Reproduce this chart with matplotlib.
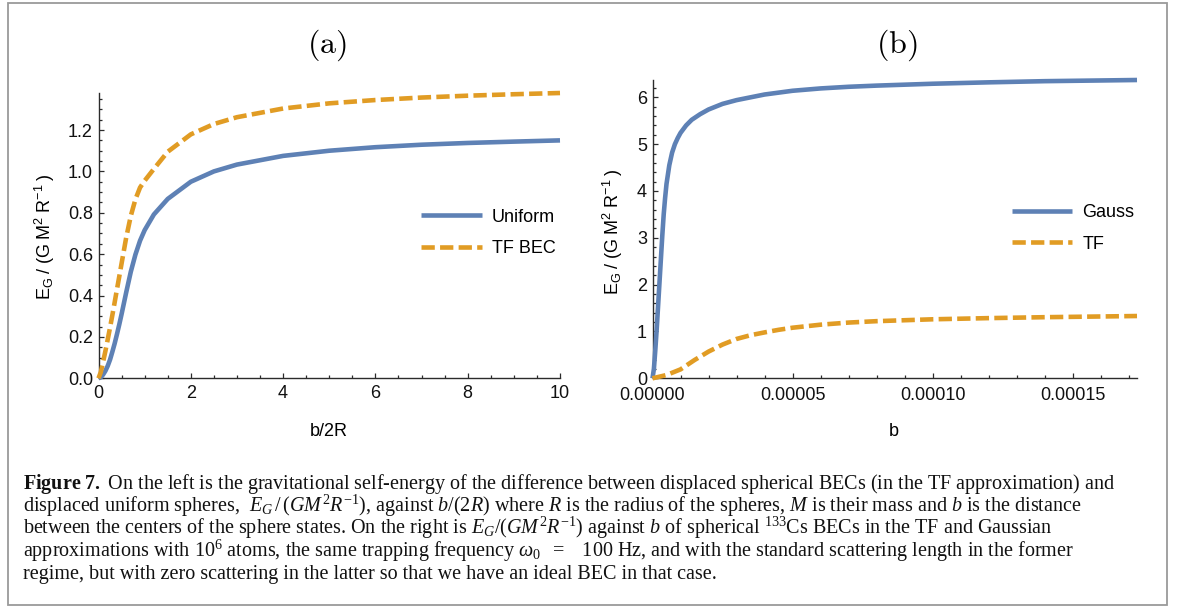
import matplotlib
matplotlib.use("Agg")
import matplotlib.pyplot as plt
from matplotlib.patches import Rectangle
from matplotlib.ticker import FixedLocator, MultipleLocator

# ---------------- data ----------------
# Panel (a): separation in units of b/2R
sep_a = [0, 0.05, 0.1, 0.15, 0.2, 0.25, 0.3, 0.35, 0.4, 0.45, 0.5, 0.6, 0.7,
         0.8, 0.9, 1.0, 1.2, 1.5, 2.0, 2.5, 3.0, 4.0, 5.0, 6.0, 7.0, 8.0, 9.0, 10.0]
uniform_a = [0, 0.005, 0.018, 0.036, 0.06, 0.09, 0.128, 0.168, 0.213, 0.26, 0.31,
             0.415, 0.515, 0.598, 0.665, 0.716, 0.792, 0.867, 0.95, 1.0, 1.033,
             1.075, 1.1, 1.117, 1.129, 1.1375, 1.144, 1.15]
tfbec_a = [0, 0.03, 0.08, 0.132, 0.188, 0.245, 0.305, 0.367, 0.43, 0.492, 0.555,
           0.68, 0.785, 0.865, 0.922, 0.955, 1.012, 1.095, 1.179, 1.229, 1.262,
           1.304, 1.329, 1.345, 1.357, 1.366, 1.373, 1.379]

# Panel (b): separation b in metres
sep_gauss = [0, 0.05e-5, 0.1e-5, 0.15e-5, 0.2e-5, 0.25e-5, 0.3e-5, 0.35e-5, 0.4e-5,
             0.45e-5, 0.5e-5, 0.6e-5, 0.7e-5, 0.8e-5, 0.9e-5, 1.0e-5, 1.2e-5,
             1.4e-5, 1.7e-5, 2.0e-5, 2.5e-5, 3.0e-5, 3.5e-5, 4.0e-5, 5.0e-5,
             6.0e-5, 7.0e-5, 8.0e-5, 10e-5, 12e-5, 14e-5, 16e-5, 17.3e-5]
gauss_b = [0, 0.2, 0.6, 1.05, 1.55, 2.05, 2.55, 3.05, 3.5, 3.85, 4.15, 4.55, 4.82,
           5.0, 5.13, 5.24, 5.4, 5.52, 5.64, 5.74, 5.86, 5.94, 6.0, 6.06, 6.14,
           6.19, 6.225, 6.25, 6.29, 6.32, 6.345, 6.36, 6.37]
sep_tf = [0, 0.5e-5, 1.0e-5, 1.5e-5, 2.0e-5, 2.5e-5, 3.0e-5, 3.5e-5, 4.0e-5,
          4.5e-5, 5.0e-5, 6.0e-5, 7.0e-5, 8.0e-5, 9.0e-5, 10e-5, 12e-5, 14e-5,
          16e-5, 17.3e-5]
tf_b = [0, 0.07, 0.19, 0.39, 0.57, 0.72, 0.84, 0.92, 0.98, 1.035, 1.08, 1.145,
        1.19, 1.22, 1.24, 1.26, 1.285, 1.305, 1.32, 1.33]

xticks_a = [0, 2, 4, 6, 8, 10]
yticks_a = [0.0, 0.2, 0.4, 0.6, 0.8, 1.0, 1.2]
ylabels_a = ["0.0", "0.2", "0.4", "0.6", "0.8", "1.0", "1.2"]
xticks_b = [0, 0.00005, 0.00010, 0.00015]
xlabels_b = ["0.00000", "0.00005", "0.00010", "0.00015"]
yticks_b = [0, 1, 2, 3, 4, 5, 6]
ylabels_b = ["0", "1", "2", "3", "4", "5", "6"]

# ---------------- style ----------------
BLUE = "#5E81B5"
ORANGE = "#E19C24"
AXC = "#2b2b2b"
W, H = 1182, 608
FS = 13

plt.rcParams["font.family"] = ["Liberation Sans", "DejaVu Sans"]
plt.rcParams["mathtext.fontset"] = "custom"
plt.rcParams["mathtext.rm"] = "Liberation Serif"
plt.rcParams["mathtext.it"] = "Liberation Serif:italic"
plt.rcParams["mathtext.bf"] = "Liberation Serif:bold"

fig = plt.figure(figsize=(W / 100, H / 100), dpi=100)


def px_axes(x0, x1, y_top, y_bot):
    return fig.add_axes([x0 / W, 1 - y_bot / H, (x1 - x0) / W, (y_bot - y_top) / H])


def style_axes(ax):
    for s in ("top", "right"):
        ax.spines[s].set_visible(False)
    for s in ("left", "bottom"):
        ax.spines[s].set_color(AXC)
        ax.spines[s].set_linewidth(1.0)
    ax.tick_params(which="both", direction="in", colors=AXC, labelcolor="#111111",
                   labelsize=FS, width=0.9)
    ax.tick_params(which="major", length=3.6)
    ax.tick_params(which="minor", length=2.0)
    ax.tick_params(axis="x", pad=5)
    ax.tick_params(axis="y", pad=4)
    ax.set_facecolor("none")


LW = 3.3
DASH = (2.9, 1.15)
LEG = dict(loc="center left", frameon=False, fontsize=FS, handlelength=3.35,
           handletextpad=0.55, labelspacing=0.8, borderpad=0, borderaxespad=0)

# ---------------- panel (a) ----------------
ax1 = px_axes(98.5, 560, 93, 378.3)
ax1.plot(sep_a, uniform_a, color=BLUE, lw=LW, solid_capstyle="butt",
         label="Uniform", zorder=3, clip_on=False)
ax1.plot(sep_a, tfbec_a, color=ORANGE, lw=LW, dashes=DASH, dash_capstyle="butt",
         label="TF BEC", zorder=3, clip_on=False)
ax1.set_xlim(0, 10)
ax1.set_ylim(0, max(tfbec_a))
ax1.xaxis.set_major_locator(FixedLocator(xticks_a))
ax1.xaxis.set_minor_locator(MultipleLocator(0.5))
ax1.set_yticks(yticks_a, ylabels_a)
ax1.yaxis.set_minor_locator(MultipleLocator(0.05))
style_axes(ax1)
ax1.legend(bbox_to_anchor=(0.699, 0.51), **LEG)

# ---------------- panel (b) ----------------
ax2 = px_axes(652.5, 1137, 80, 378.3)
ax2.plot(sep_gauss, gauss_b, color=BLUE, lw=LW, solid_capstyle="butt",
         label="Gauss", zorder=3, clip_on=False)
ax2.plot(sep_tf, tf_b, color=ORANGE, lw=LW, dashes=DASH, dash_capstyle="butt",
         label="TF", zorder=3, clip_on=False)
ax2.set_xlim(0, max(sep_gauss))
ax2.set_ylim(0, max(gauss_b))
ax2.set_xticks(xticks_b, xlabels_b)
ax2.xaxis.set_minor_locator(MultipleLocator(0.00001))
ax2.set_yticks(yticks_b, ylabels_b)
ax2.yaxis.set_minor_locator(MultipleLocator(0.2))
style_axes(ax2)
ax2.tick_params(axis="x", pad=6)
ax2.legend(bbox_to_anchor=(0.742, 0.502), **LEG)

# ---------------- titles and axis labels ----------------
ylab = r"$\mathregular{E_G\ /\ (G\ M^2\ R^{-1}\ )}$"
fig.text(327 / W, 1 - 45 / H, r"$\mathrm{(a)}$", ha="center", va="center",
         fontsize=23, math_fontfamily="cm")
fig.text(897 / W, 1 - 45 / H, r"$\mathrm{(b)}$", ha="center", va="center",
         fontsize=23, math_fontfamily="cm")
fig.text(329 / W, 1 - 431 / H, "b/2R", ha="center", va="center", fontsize=FS)
fig.text(894 / W, 1 - 431 / H, "b", ha="center", va="center", fontsize=FS)
fig.text(45 / W, 1 - 237 / H, ylab, ha="center", va="center", rotation=90,
         fontsize=FS)
fig.text(613 / W, 1 - 232 / H, ylab, ha="center", va="center", rotation=90,
         fontsize=FS)

# ---------------- caption ----------------
caption = [
    r"$\mathbf{Figure\ 7.}$ On the left is the gravitational self-energy of the difference between displaced spherical BECs (in the TF approximation) and",
    r"displaced uniform spheres,  $E_G\,/\,(GM^2R^{-1})$, against $b/(2R)$ where $R$ is the radius of the spheres, $M$ is their mass and $b$ is the distance",
    r"between the centers of the sphere states. On the right is $E_G/(GM^2R^{-1})$ against $b$ of spherical ${}^{133}$Cs BECs in the TF and Gaussian",
    r"approximations with $10^6$ atoms, the same trapping frequency $\omega_0\ \ =\ \ $ 100 Hz, and with the standard scattering length in the former",
    r"regime, but with zero scattering in the latter so that we have an ideal BEC in that case.",
]
base_y = [489, 512, 534, 557, 579]
for line, yb in zip(caption, base_y):
    fig.text(23 / W, 1 - yb / H, line, ha="left", va="baseline", fontsize=14.5,
             family=["Liberation Serif", "DejaVu Serif"], color="#111111")

# outer frame
fig.patches.append(Rectangle((8 / W, 1 - 605 / H), (1167 - 8) / W, (605 - 3) / H,
                             transform=fig.transFigure, fill=False,
                             edgecolor="#9a9a9a", linewidth=1.3))

fig.savefig("out.png", dpi=100)
